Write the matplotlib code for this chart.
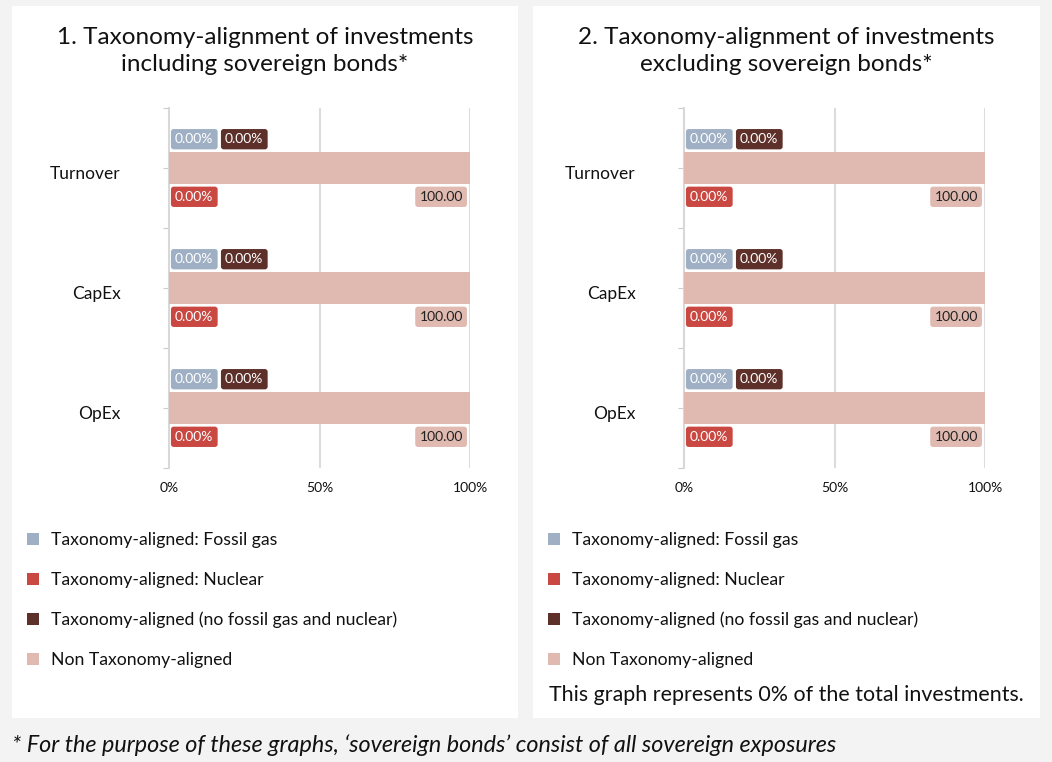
import matplotlib.pyplot as plt
import matplotlib.transforms as mtransforms
from matplotlib.patches import Rectangle, Patch

plt.rcParams['font.family'] = ['Lato', 'DejaVu Sans']

categories = ["Turnover", "CapEx", "OpEx"]
series_names = ["Taxonomy-aligned: Fossil gas",
                "Taxonomy-aligned: Nuclear",
                "Taxonomy-aligned (no fossil gas and nuclear)",
                "Non Taxonomy-aligned"]
colors = ["#9fb0c5", "#c94841", "#5d3129", "#e0b9b0"]
text_colors = ["#ffffff", "#ffffff", "#ffffff", "#222222"]

# values per series, one per category (graph 1 and graph 2)
fossil_1 = [0.0, 0.0, 0.0]
nuclear_1 = [0.0, 0.0, 0.0]
aligned_1 = [0.0, 0.0, 0.0]
non_1 = [100.0, 100.0, 100.0]
fossil_2 = [0.0, 0.0, 0.0]
nuclear_2 = [0.0, 0.0, 0.0]
aligned_2 = [0.0, 0.0, 0.0]
non_2 = [100.0, 100.0, 100.0]

titles = ["1. Taxonomy-alignment of investments\nincluding sovereign bonds*",
          "2. Taxonomy-alignment of investments\nexcluding sovereign bonds*"]
xticks = [0, 50, 100]
xtick_labels = ["0%", "50%", "100%"]

W, H = 1052, 762
fig = plt.figure(figsize=(W / 100, H / 100), dpi=100)
fig.patch.set_facecolor("#f3f3f3")


def px(x, y):
    return x / W, 1 - y / H


# white panels
for x0, x1 in [(12, 518), (533, 1040)]:
    fig.patches.append(Rectangle(px(x0, 718), (x1 - x0) / W, 712 / H,
                                 transform=fig.transFigure, facecolor="white",
                                 edgecolor="none", zorder=-10))


def label(ax, text, x, y, color, tcolor, dx, ha):
    ax.annotate(text, xy=(x, y), xytext=(dx, 0), textcoords="offset points",
                ha=ha, va="center", fontsize=10, color=tcolor, zorder=5,
                bbox=dict(boxstyle="round,pad=0.3,rounding_size=0.2",
                          facecolor=color, edgecolor="none"))


def draw(ax_left, title, title_x, data):
    fossil, nuclear, aligned, non = data
    ax = fig.add_axes([ax_left / W, 1 - 468 / H, 301 / W, 360 / H])
    ax.set_facecolor("none")
    ypos = list(range(len(categories)))
    ax.barh(ypos, fossil, height=0.26, color=colors[0])
    ax.barh(ypos, nuclear, height=0.26, color=colors[1])
    ax.barh(ypos, aligned, height=0.26, color=colors[2])
    ax.barh(ypos, non, height=0.26, color=colors[3], zorder=3)
    for i, y in enumerate(ypos):
        label(ax, f"{fossil[i]:.2f}%", fossil[i], y - 0.24, colors[0], text_colors[0], 4.4, "left")
        label(ax, f"{aligned[i]:.2f}%", aligned[i], y - 0.24, colors[2], text_colors[2], 40.4, "left")
        label(ax, f"{nuclear[i]:.2f}%", nuclear[i], y + 0.24, colors[1], text_colors[1], 4.4, "left")
        label(ax, f"{non[i]:.2f}", non[i], y + 0.24, colors[3], text_colors[3], -5.2, "right")
    ax.set_xlim(0, 100)
    ax.set_ylim(2.5, -0.5)
    ax.set_yticks([-0.5, 0, 0.5, 1, 1.5, 2, 2.5])
    ax.set_yticklabels(["", categories[0], "", categories[1], "", categories[2], ""],
                       fontsize=12.5, color="#111111")
    ax.tick_params(axis="y", length=4, color="#cccccc", pad=31)
    # category names sit a little below the bar centre
    shift = mtransforms.ScaledTranslation(0, -4.5 / 100, fig.dpi_scale_trans)
    for t in ax.get_yticklabels():
        t.set_transform(t.get_transform() + shift)
    ax.set_xticks(xticks)
    ax.set_xticklabels(xtick_labels, fontsize=10, color="#111111")
    ax.tick_params(axis="x", length=0, pad=10.4)
    for x in xticks[1:]:
        ax.axvline(x, color="#dcdcdc", lw=1.5, zorder=1)
    for s in ["top", "right", "bottom"]:
        ax.spines[s].set_visible(False)
    ax.spines["left"].set_color("#d8d8d8")
    ax.spines["left"].set_linewidth(1.5)
    fig.text(title_x / W, 1 - 51 / H, title,
             ha="center", va="center", fontsize=17.5, color="#111111", linespacing=1.4)
    return ax


draw(169, titles[0], 265, (fossil_1, nuclear_1, aligned_1, non_1))
draw(684, titles[1], 786, (fossil_2, nuclear_2, aligned_2, non_2))

handles = [Patch(facecolor=c, edgecolor="none") for c in colors]
for lx in [20, 541]:
    fig.legend(handles, series_names, loc="upper left",
               bbox_to_anchor=(lx / W, 1 - 525 / H), frameon=False,
               fontsize=12.7, handlelength=0.7, handleheight=0.7,
               handletextpad=0.65, labelspacing=1.35, borderaxespad=0,
               labelcolor="#111111")

fig.text(549 / W, 1 - 695 / H, "This graph represents 0% of the total investments.",
         ha="left", va="center", fontsize=15.4, color="#111111")
fig.text(12 / W, 1 - 745 / H,
         "* For the purpose of these graphs, \u2018sovereign bonds\u2019 consist of all sovereign exposures",
         ha="left", va="center", fontsize=16.8, style="italic", color="#111111")

fig.savefig("out.png", dpi=100, facecolor=fig.get_facecolor())
